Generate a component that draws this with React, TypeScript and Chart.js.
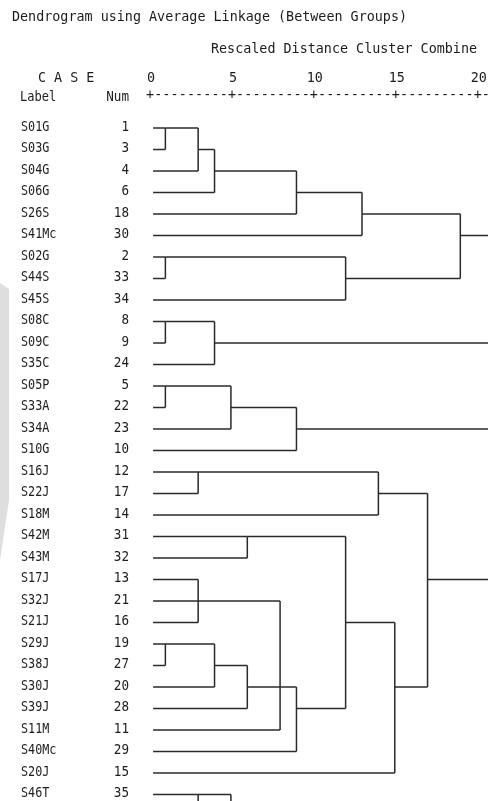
import React, { useEffect, useRef } from "react";
import { Chart, registerables } from "chart.js";

Chart.register(...registerables);

// ---- Data ----
const TITLE = "Dendrogram using Average Linkage (Between Groups)";
const SUBTITLE = "Rescaled Distance Cluster Combine";
const AXIS_TICKS = [0, 5, 10, 15, 20];

const CASE_LABELS = [
  "S01G", "S03G", "S04G", "S06G", "S26S", "S41Mc", "S02G", "S44S", "S45S",
  "S08C", "S09C", "S35C", "S05P", "S33A", "S34A", "S10G", "S16J", "S22J",
  "S18M", "S42M", "S43M", "S17J", "S32J", "S21J", "S29J", "S38J", "S30J",
  "S39J", "S11M", "S40Mc", "S20J", "S46T",
];
const CASE_NUMS = [
  1, 3, 4, 6, 18, 30, 2, 33, 34, 8, 9, 24, 5, 22, 23, 10, 12, 17, 14, 31, 32,
  13, 21, 16, 19, 27, 20, 28, 11, 29, 15, 35,
];

// children: ids < 100 are leaf rows (rows 32, 33 lie below the visible crop),
// ids >= 100 refer to merge (id - 100)
const MERGE_CHILDREN = [
  [0, 1], [100, 2], [101, 3], [102, 4], [103, 5],
  [6, 7], [105, 8], [104, 106],
  [9, 10], [108, 11],
  [12, 13], [110, 14], [111, 15],
  [16, 17], [113, 18],
  [19, 20], [21, 22, 23], [24, 25], [117, 26], [118, 27],
  [116, 119, 28], [120, 29], [115, 121], [122, 30], [114, 123],
  [31, 32], [125, 33],
];
const MERGE_DIST = [1, 3, 4, 9, 13, 1, 12, 19, 1, 4, 1, 5, 9, 3, 14, 6, 3, 1, 4, 6, 8, 9, 12, 15, 17, 3, 5];
const MERGE_ROW = [0, 1, 2, 3, 4, 6, 7, 5, 9, 10, 12, 13, 14, 16, 17, 19, 22, 24, 25, 26, 26, 27, 23, 26, 21, 31, 32];
const OPEN_MERGES = [7, 9, 12, 24, 26]; // continue past the visible range
const LEAF_START = 0.25;
const OPEN_END = 25;

// ---- Geometry helpers (not data) ----
const W = 488;
const H = 801;
const X0 = 149;
const XU = 16.385;
const Y0 = 128;
const YU = 21.5;

type P = { x: number; y: number };

function buildSegments(): P[][] {
  const segs: P[][] = [];
  const startOf = (c: number) => (c >= 100 ? MERGE_DIST[c - 100] : LEAF_START);
  const rowOf = (c: number) => (c >= 100 ? MERGE_ROW[c - 100] : c);
  MERGE_CHILDREN.forEach((kids, i) => {
    const d = MERGE_DIST[i];
    const rows = kids.map(rowOf);
    kids.forEach((c) => {
      segs.push([{ x: startOf(c), y: rowOf(c) }, { x: d, y: rowOf(c) }]);
    });
    segs.push([{ x: d, y: Math.min(...rows) }, { x: d, y: Math.max(...rows) }]);
  });
  OPEN_MERGES.forEach((i) => {
    segs.push([{ x: MERGE_DIST[i], y: MERGE_ROW[i] }, { x: OPEN_END, y: MERGE_ROW[i] }]);
  });
  return segs;
}

const TEXT = "#1c1c1c";
const MONO = "'DejaVu Sans Mono', 'Liberation Mono', monospace";

function narrowText(ctx: any, s: string, x: number, y: number, align: "left" | "right", sx: number) {
  ctx.save();
  ctx.translate(x, y);
  ctx.scale(sx, 1);
  ctx.textAlign = align;
  ctx.fillText(s, 0, 0);
  ctx.restore();
}

const textPlugin = {
  id: "dendroText",
  beforeDraw(chart: any) {
    const ctx = chart.ctx;
    ctx.save();
    ctx.fillStyle = "#ffffff";
    ctx.fillRect(0, 0, chart.width, chart.height);
    // faint page shadow on the left edge
    ctx.fillStyle = "#dedede";
    ctx.beginPath();
    ctx.moveTo(0, 283);
    ctx.lineTo(9, 289);
    ctx.lineTo(9, 500);
    ctx.lineTo(0, 560);
    ctx.closePath();
    ctx.fill();
    ctx.restore();
  },
  afterDraw(chart: any) {
    const ctx = chart.ctx;
    const xs = chart.scales.x;
    const ys = chart.scales.y;
    ctx.save();
    ctx.fillStyle = TEXT;
    ctx.textBaseline = "middle";

    ctx.font = `13.4px ${MONO}`;
    ctx.textAlign = "left";
    ctx.fillText(TITLE, 12, 18);
    ctx.fillText(SUBTITLE, 211, 50);
    ctx.fillText("C A S E", 38, 79);

    // tick numbers
    ctx.textAlign = "center";
    AXIS_TICKS.forEach((t) => {
      ctx.fillText(String(t), xs.getPixelForValue(t) + 2, 79);
    });

    // +----+ ruler
    const step = AXIS_TICKS[1] - AXIS_TICKS[0];
    const last = AXIS_TICKS[AXIS_TICKS.length - 1];
    for (let v = AXIS_TICKS[0]; v <= last + step; v += step / 10) {
      const isTick = Math.abs(v / step - Math.round(v / step)) < 1e-6;
      ctx.fillText(isTick ? "+" : "-", xs.getPixelForValue(v) + 1, 96);
    }

    ctx.font = `14px ${MONO}`;
    narrowText(ctx, "Label", 20, 97, "left", 0.86);
    narrowText(ctx, "Num", 129, 97, "right", 0.9);

    CASE_LABELS.forEach((lab, i) => {
      const y = ys.getPixelForValue(i) - 1;
      narrowText(ctx, lab, 21, y, "left", 0.84);
      narrowText(ctx, String(CASE_NUMS[i]), 129, y, "right", 0.9);
    });
    ctx.restore();
  },
};

export default function App() {
  const ref = useRef<HTMLCanvasElement>(null);
  useEffect(() => {
    if (!ref.current) return;
    const segs = buildSegments();
    const chart = new Chart(ref.current, {
      type: "scatter",
      data: {
        datasets: segs.map((s) => ({
          data: s,
          showLine: true,
          borderColor: "#2a2a2a",
          borderWidth: 1.5,
          pointRadius: 0,
          fill: false,
        })),
      },
      options: {
        responsive: false,
        animation: false,
        events: [],
        layout: { padding: 0 },
        plugins: { legend: { display: false }, tooltip: { enabled: false }, title: { display: false } },
        scales: {
          x: { type: "linear", display: false, min: -X0 / XU, max: (W - X0) / XU },
          y: { type: "linear", display: false, reverse: true, min: -Y0 / YU, max: (H - Y0) / YU },
        },
      },
      plugins: [textPlugin],
    });
    return () => chart.destroy();
  }, []);
  return (
    <div style={{ position: "fixed", left: 0, top: 0, width: W, height: H, background: "#fff" }}>
      <canvas ref={ref} width={W} height={H} style={{ display: "block", width: W, height: H }} />
    </div>
  );
}
